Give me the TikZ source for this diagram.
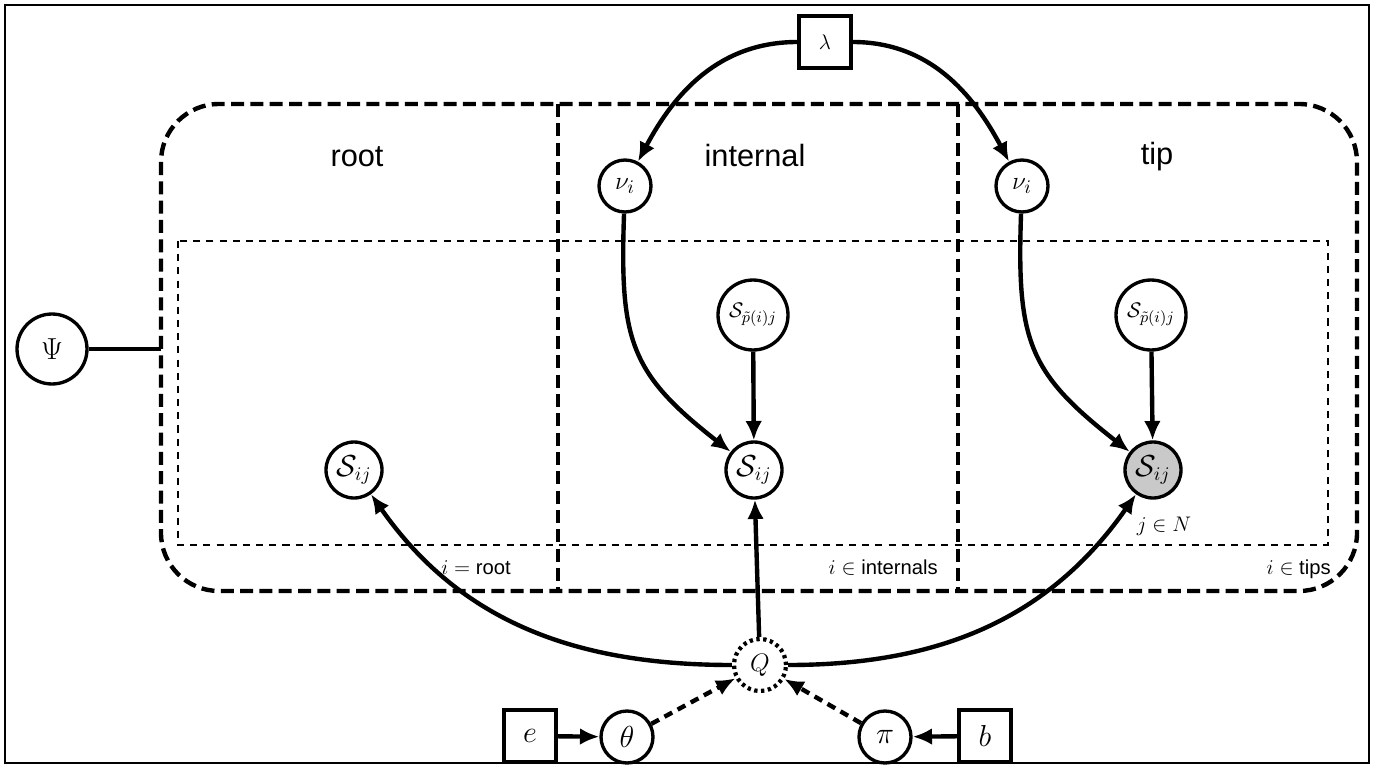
\documentclass[tikz,border=0pt]{standalone}
\usepackage{fontspec}
\setsansfont{Liberation Sans}
\usetikzlibrary{arrows.meta}
\begin{document}
\begin{tikzpicture}[x=0.02cm,y=-0.02cm,
  var/.style={circle,draw,line width=1.9pt,inner sep=0pt,minimum size=1.04cm,font=\fontsize{15}{17}\selectfont},
  bigvar/.style={var,minimum size=1.4cm,font=\fontsize{12.5}{14}\selectfont},
  sij/.style={var,minimum size=1.12cm,font=\fontsize{16}{18}\selectfont},
  hyper/.style={rectangle,draw,line width=1.9pt,inner sep=0pt,minimum size=1.04cm,font=\fontsize{16}{18}\selectfont},
  conn/.style={line width=2.5pt,-{Latex[length=11pt,width=9.5pt]}},
  dconn/.style={conn,dash pattern=on 5pt off 3.5pt},
  plate/.style={line width=2.5pt,dash pattern=on 7.4pt off 3.6pt},
  inplate/.style={line width=1.3pt,dash pattern=on 4pt off 3.5pt},
  head/.style={font=\sffamily\fontsize{17.5}{20}\selectfont,anchor=base,inner sep=0pt},
  lab/.style={font=\sffamily\fontsize{11.5}{13}\selectfont,anchor=base east,inner sep=0pt}
]
\useasboundingbox (0,0) rectangle (1383,767);
\draw[line width=0.7pt] (5,5) rectangle (1369,763);

% plates
\draw[plate,rounded corners=58*0.02cm] (161,104) rectangle (1357,591);
\draw[plate] (558,104) -- (558,591);
\draw[plate] (958,104) -- (958,591);
\draw[inplate] (178,241) rectangle (1328,545);

% headings
\node[head] (hroot) at (357,167) {root};
\node[head] (hint) at (755,167) {internal};
\node[head] (htip) at (1157,165) {tip};

% labels
\node[lab] (lroot) at (511,574) {$i=$ root};
\node[lab] (lint) at (938,574) {$i\in$ internals};
\node[lab] (ltip) at (1331,574) {$i\in$ tips};

% nodes
\node[hyper,font=\fontsize{12}{14}\selectfont] (lam) at (825,42) {$\lambda$};
\node[var] (nuI) at (625,186) {$\nu_i$};
\node[var] (nuT) at (1022,186) {$\nu_i$};
\node[bigvar] (pI) at (753,315) {$\mathcal{S}_{\tilde{p}(i)j}$};
\node[bigvar] (pT) at (1151,315) {$\mathcal{S}_{\tilde{p}(i)j}$};
\node[sij] (Sr) at (354,470) {$\mathcal{S}_{ij}$};
\node[sij] (SI) at (754,470) {$\mathcal{S}_{ij}$};
\node[sij,fill=black!21] (ST) at (1153,470) {$\mathcal{S}_{ij}$};
\node[font=\fontsize{12.5}{14}\selectfont,inner sep=0pt,anchor=base] (jN) at (1164,531) {$j\in N$};
\node[var,dotted,line width=2.4pt,font=\fontsize{15}{17}\selectfont] (Q) at (760,665) {$Q$};
\node[var,minimum size=1.4cm,font=\fontsize{16.5}{18}\selectfont] (Psi) at (52,349) {$\Psi$};
\coordinate (pl) at (161,349);
\node[hyper] (e) at (530,736) {$e$};
\node[var,font=\fontsize{16}{18}\selectfont] (th) at (627,737) {$\theta$};
\node[var,font=\fontsize{16}{18}\selectfont] (pi) at (885,737) {$\pi$};
\node[hyper] (b) at (985,736) {$b$};

% connectors
\draw[conn] (lam.west) to[out=180,in=62] (nuI);
\draw[conn] (lam.east) to[out=0,in=118] (nuT);
\draw[conn] (nuI) to[out=-92,in=142,looseness=1.25] (SI);
\draw[conn] (nuT) to[out=-92,in=142,looseness=1.25] (ST);
\draw[conn] (pI) -- (SI);
\draw[conn] (pT) -- (ST);
\draw[conn] (Q) -- (SI);
\draw[conn] (Q) to[out=180,in=-55] (Sr);
\draw[conn] (Q) to[out=0,in=-125] (ST);
\draw[dconn] (th) -- (Q);
\draw[dconn] (pi) -- (Q);
\draw[conn] (e) -- (th);
\draw[conn] (b) -- (pi);
\draw[line width=2.4pt] (Psi) -- (pl);
\end{tikzpicture}
\end{document}
